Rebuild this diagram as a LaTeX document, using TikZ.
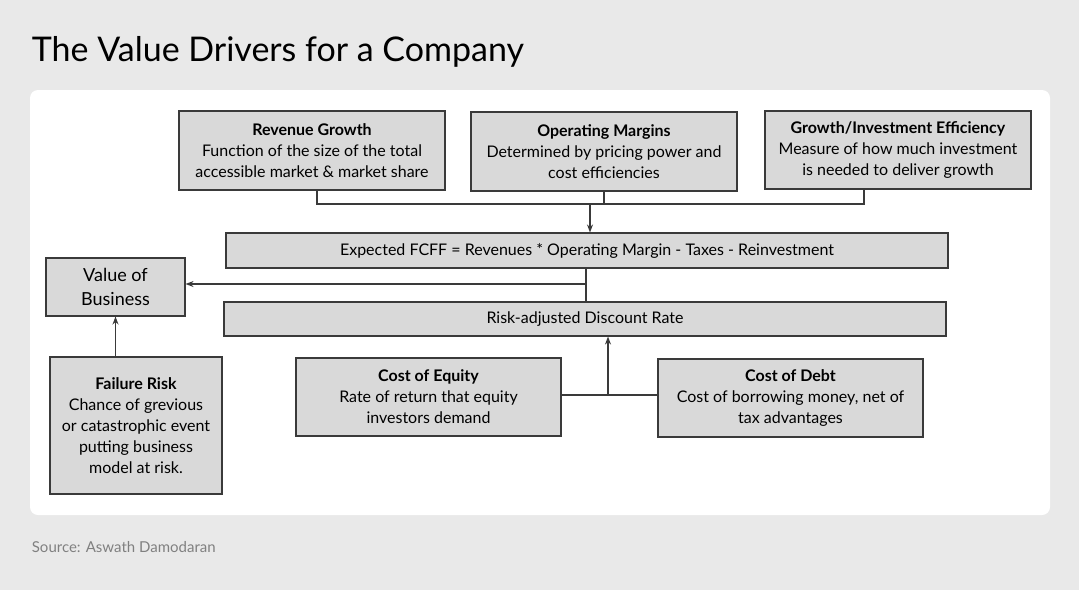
\documentclass[tikz,border=0pt]{standalone}
\usepackage{fontspec}
\setmainfont{Lato}
\usetikzlibrary{arrows.meta}
\definecolor{pagegray}{HTML}{E9E9E9}
\definecolor{boxgray}{HTML}{D9D9D9}
\definecolor{edgegray}{HTML}{3A3A3A}
\begin{document}
\begin{tikzpicture}[x=1pt,y=-1pt,line width=1.1pt,
    drvbox/.style={draw=edgegray,fill=boxgray,align=center,inner sep=2pt,font=\fontsize{16}{21}\selectfont},
    arr/.style={-{Stealth[length=8pt,width=6pt]}}]
  \fill[pagegray] (0,0) rectangle (1079,590);
  \useasboundingbox (0,0) rectangle (1079,590);
  \fill[white,rounded corners=8pt] (30,90) rectangle (1050,515);
  \node[anchor=west,font=\fontsize{34}{40}\selectfont] (title) at (28,52) {The Value Drivers for a Company};
  \node[anchor=west,text=gray,font=\fontsize{15}{18}\selectfont] (src) at (28,547) {Source: Aswath Damodaran};

  \node[drvbox,minimum width=266pt,minimum height=79pt] (rev) at (312,150.5) {\textbf{Revenue Growth}\\Function of the size of the total\\accessible market \& market share};
  \node[drvbox,minimum width=266pt,minimum height=79pt] (opm) at (604,151.5) {\textbf{Operating Margins}\\Determined by pricing power and\\cost efficiencies};
  \node[drvbox,minimum width=266pt,minimum height=78pt] (gie) at (898,150) {\textbf{Growth/Investment Efficiency}\\Measure of how much investment\\is needed to deliver growth};
  \node[drvbox,minimum width=722pt,minimum height=35pt] (fcff) at (587,250.5) {Expected FCFF = Revenues * Operating Margin - Taxes - Reinvestment};
  \node[drvbox,minimum width=139pt,minimum height=58pt,font=\fontsize{18}{24}\selectfont] (val) at (115.5,287) {Value of\\Business};
  \node[drvbox,minimum width=722pt,minimum height=34pt] (rdr) at (585,319) {Risk-adjusted Discount Rate};
  \node[drvbox,minimum width=265pt,minimum height=78pt] (coe) at (428.5,397) {\textbf{Cost of Equity}\\Rate of return that equity\\investors demand};
  \node[drvbox,minimum width=265pt,minimum height=78pt] (cod) at (790.5,398) {\textbf{Cost of Debt}\\Cost of borrowing money, net of\\tax advantages};
  \node[drvbox,minimum width=172pt,minimum height=137pt] (fail) at (136,425.5) {\textbf{Failure Risk}\\Chance of grevious\\or catastrophic event\\putting business\\model at risk.};

  \coordinate (jtop) at (590,204);
  \coordinate (jmid) at (586,284);
  \coordinate (jlow) at (608,395);
  \draw[edgegray] (317,190) |- (jtop) -| (864,189);
  \draw[edgegray] (604,191) -- (604,204);
  \draw[edgegray,arr] (jtop) -- (fcff.north -| jtop);
  \draw[edgegray] (fcff.south -| jmid) -- (rdr.north -| jmid);
  \draw[edgegray,arr] (jmid) -- (val.east |- jmid);
  \draw[edgegray] (coe.east |- jlow) -- (cod.west |- jlow);
  \draw[edgegray,arr] (jlow) -- (rdr.south -| jlow);
  \draw[edgegray,arr] (fail.north -| val) -- (val.south);
\end{tikzpicture}
\end{document}
